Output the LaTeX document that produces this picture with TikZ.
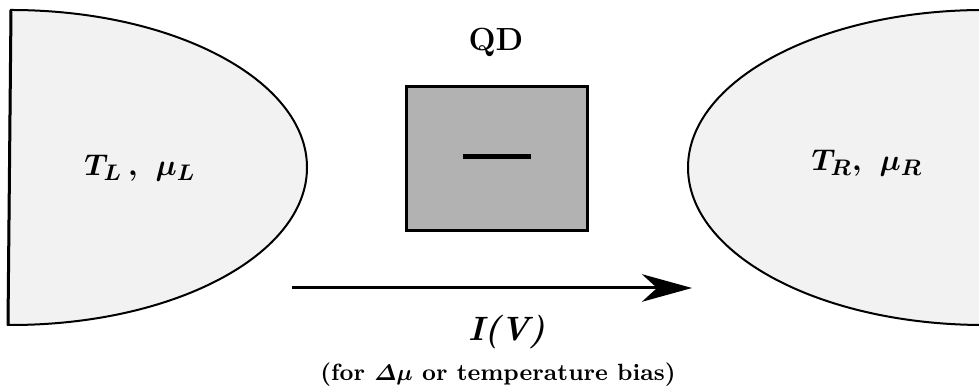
\documentclass[tikz,border=0pt]{standalone}
\usepackage{amsmath,amssymb}
\usetikzlibrary{arrows.meta}

\begin{document}
\begin{tikzpicture}[x=0.4pt, y=0.4pt,
    reservoir/.style={draw=black, line width=0.8pt, fill=black!5},
    lbl/.style={font=\fontsize{13}{15}\selectfont\bfseries\boldmath}]
    \useasboundingbox (0,0) rectangle (979,392);
    \clip (0,0) rectangle (979,392);
    % left and right leads
    \draw[reservoir] (8,67) -- (11,382) arc[start angle=90, end angle=-90, x radius=296, y radius=157.5] -- cycle;
    \draw[line width=1.2pt] (8,67) -- (11,382);
    \draw[reservoir] (984,224.5) ellipse[x radius=296, y radius=157.5];
    \node[lbl] (tl) at (140,224) {$T_L\,,\ \mu_L$};
    \node[lbl] (tr) at (867,229) {$T_R,\ \mu_R$};
    % dot with one level
    \node[draw, line width=1.2pt, fill=black!30, minimum width=72.4pt, minimum height=57.6pt, inner sep=0pt] (qd) at (496.5,233) {};
    \draw[line width=2pt] (463,235) -- (531,235);
    \node[font=\fontsize{12.8}{15}\selectfont\bfseries] (qdl) at (496,350) {QD};
    % current
    \coordinate (ibeg) at (292,104);
    \coordinate (iend) at (692,104);
    \draw[line width=1.2pt, -{Stealth[length=20pt, width=11pt, inset=6pt]}] (ibeg) -- (iend);
    \node[font=\fontsize{13.5}{16}\selectfont\bfseries\itshape] (iv) at (507,60) {I(V)};
    \node[font=\fontsize{9.4}{11}\selectfont\bfseries\boldmath] (note) at (498,17) {(for $\varDelta\mu$ or temperature bias)};
\end{tikzpicture}
\end{document}
